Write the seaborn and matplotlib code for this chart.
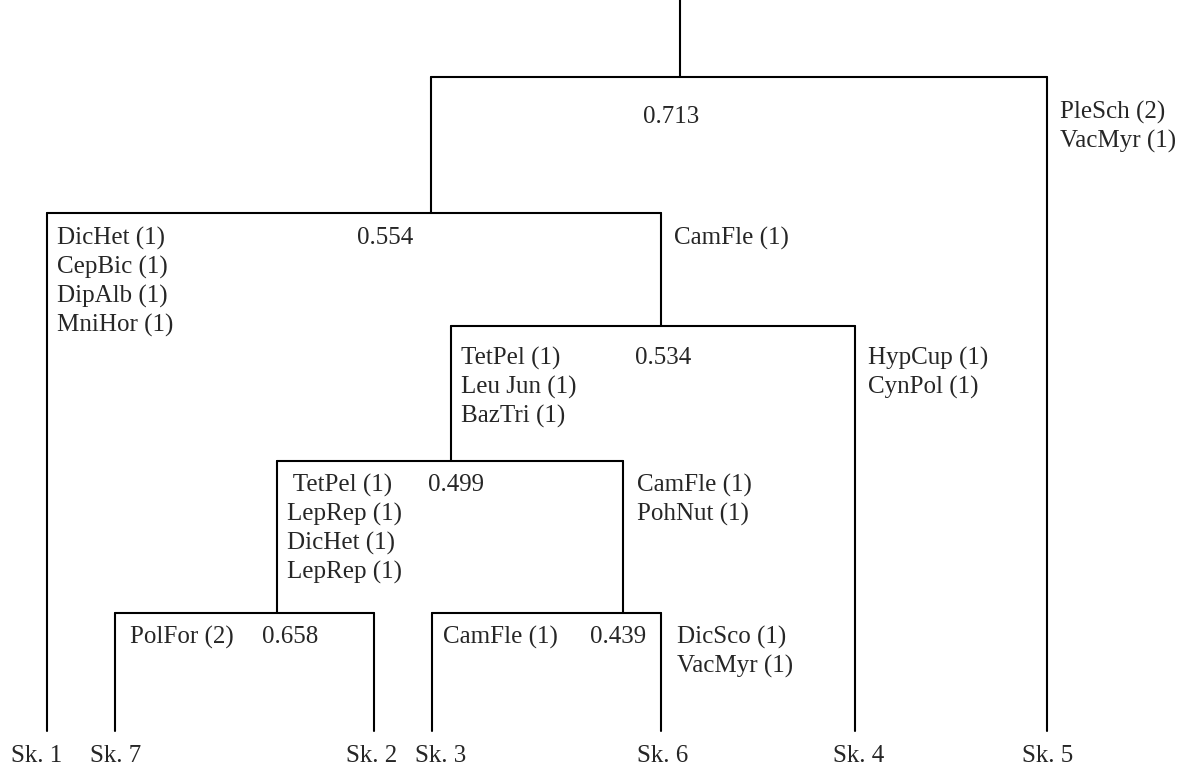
import pandas as pd
import matplotlib
matplotlib.use("Agg")
import matplotlib.pyplot as plt
import seaborn as sns

# Leaves (sample groups) in drawing order and their x position
leaves = ["Sk. 1", "Sk. 7", "Sk. 2", "Sk. 3", "Sk. 6", "Sk. 4", "Sk. 5"]
leaf_x = [47, 115, 374, 432, 661, 855, 1047]
leaf_parent_y = [213, 613, 613, 613, 613, 326, 77]
leaf_bottom = 731
leaf_label_x = [37, 116, 372, 441, 663, 859, 1048]

# Divisions: eigenvalue, left x, right x, stem x, level y, parent level y
eigenvalues = ["0.713", "0.554", "0.534", "0.499", "0.658", "0.439"]
div_left = [431, 47, 451, 277, 115, 432]
div_right = [1047, 661, 855, 623, 374, 661]
div_stem = [680, 431, 661, 451, 277, 623]
div_y = [77, 213, 326, 461, 613, 613]
div_parent_y = [0, 77, 213, 326, 461, 461]

# Indicator species for each side of every division
left_species = [
    [],
    ["DicHet (1)", "CepBic (1)", "DipAlb (1)", "MniHor (1)"],
    ["TetPel (1)", "Leu Jun (1)", "BazTri (1)"],
    [" TetPel (1)", "LepRep (1)", "DicHet (1)", "LepRep (1)"],
    ["PolFor (2)"],
    ["CamFle (1)"],
]
right_species = [
    ["PleSch (2)", "VacMyr (1)"],
    ["CamFle (1)"],
    ["HypCup (1)", "CynPol (1)"],
    ["CamFle (1)", "PohNut (1)"],
    [],
    ["DicSco (1)", "VacMyr (1)"],
]

# text placement
left_txt_x = [None, 57, 461, 287, 130, 443]
eig_x = [643, 357, 635, 428, 262, 590]
right_txt_x = [1060, 674, 868, 637, None, 677]
txt_y = [112, 238, 358, 485, 637, 637]
eig_y = [117, 238, 358, 485, 637, 637]

# build segments
rows = []
seg = 0
for i in range(len(eigenvalues)):
    rows += [(seg, div_left[i], div_y[i]), (seg, div_right[i], div_y[i])]
    seg += 1
    rows += [(seg, div_stem[i], div_parent_y[i]), (seg, div_stem[i], div_y[i])]
    seg += 1
for x, py in zip(leaf_x, leaf_parent_y):
    rows += [(seg, x, py), (seg, x, leaf_bottom)]
    seg += 1
segs = pd.DataFrame(rows, columns=["seg", "x", "y"])

sns.set_style("white")
plt.rcParams["font.family"] = ["Liberation Serif", "DejaVu Serif"]

fig = plt.figure(figsize=(11.89, 7.71), dpi=100)
ax = fig.add_axes([0, 0, 1, 1])
sns.lineplot(data=segs, x="x", y="y", units="seg", estimator=None, sort=False,
             color="black", linewidth=1.5, ax=ax)
ax.set_xlim(0, 1189)
ax.set_ylim(771, 0)
ax.axis("off")

fs = 18
lh = 29
for i, ev in enumerate(eigenvalues):
    ax.text(eig_x[i], eig_y[i], ev, fontsize=fs, va="center", ha="left")
    for j, s in enumerate(left_species[i]):
        ax.text(left_txt_x[i], txt_y[i] + j * lh, s, fontsize=fs, va="center", ha="left")
    for j, s in enumerate(right_species[i]):
        ax.text(right_txt_x[i], txt_y[i] + j * lh, s, fontsize=fs, va="center", ha="left")

for name, x in zip(leaves, leaf_label_x):
    ax.text(x, 756, name, fontsize=fs, va="center", ha="center")

fig.savefig("out.png", dpi=100)
